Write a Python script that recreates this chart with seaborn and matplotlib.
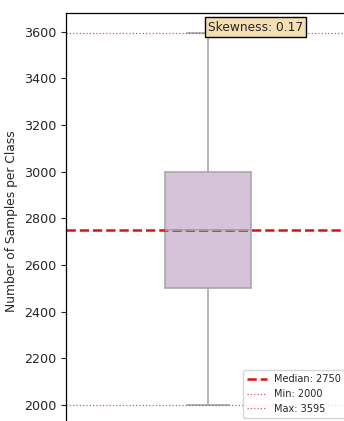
import numpy as np
import pandas as pd
import seaborn as sns
import matplotlib.pyplot as plt

# samples per class
class_counts = [2000, 2500, 2750, 3000, 3595]
skewness = 0.17
y_ticks = [2000, 2200, 2400, 2600, 2800, 3000, 3200, 3400, 3600]

df = pd.DataFrame({'count': class_counts})
median_val = int(np.median(class_counts))
min_val = min(class_counts)
max_val = max(class_counts)

sns.set_style('white')
plt.rcParams['font.family'] = ['DejaVu Sans']

fig = plt.figure(figsize=(3.44, 4.21), dpi=100)
ax = fig.add_axes([0.1919, -0.0174, 0.8256, 0.9857])

sns.boxplot(y='count', data=df, ax=ax, width=0.3, color='#d6c3d9',
            linecolor='#a8a8a8', linewidth=1.2, saturation=1)

ax.axhline(median_val, color='#e01010', linestyle='--', linewidth=1.8,
           label=f'Median: {median_val}')
ax.axhline(min_val, color='#d03030', linestyle=':', linewidth=0.9,
           alpha=0.8, label=f'Min: {min_val}')
ax.axhline(max_val, color='#d03030', linestyle=':', linewidth=0.9,
           alpha=0.8, label=f'Max: {max_val}')

ax.text(0.5, 0.967, f'Skewness: {skewness:.2f}', transform=ax.transAxes,
        ha='left', va='center', fontsize=8.8,
        bbox=dict(boxstyle='square,pad=0.25', facecolor='#f5deb3',
                  edgecolor='black'))

ax.set_ylim(1900, 3679)
ax.set_xlim(-0.5, 0.5)
ax.set_yticks(y_ticks)
ax.tick_params(axis='y', labelsize=9.2, length=3.5, left=True)
ax.set_ylabel('Number of Samples per Class', fontsize=8.8)
ax.set_xlabel('')
ax.set_xticks([])
for s in ax.spines.values():
    s.set_color('black')
    s.set_linewidth(0.9)

ax.legend(loc='lower right', bbox_to_anchor=(1.0, 0.014), fontsize=7,
          frameon=True)

fig.savefig('out.png', dpi=100)
plt.close(fig)
